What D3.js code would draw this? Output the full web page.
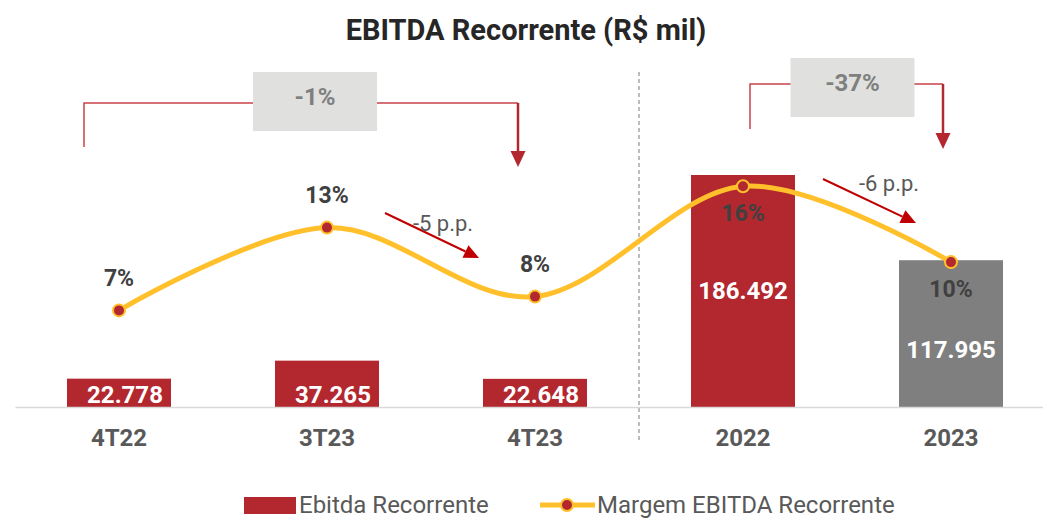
<!DOCTYPE html>
<html>
<head>
<meta charset="utf-8">
<script src="https://cdn.jsdelivr.net/npm/d3@7"></script>
<style>
  body { margin: 0; background: #fff; }
  svg { display: block; font-family: Roboto, "Noto Sans", sans-serif; }
</style>
</head>
<body>
<div id="chart"></div>
<script>
// chart data
const categories = ["4T22", "3T23", "4T23", "2022", "2023"];
const ebitdaValues = [22778, 37265, 22648, 186492, 117995];
const marginValues = [7.0, 13.0, 8.0, 16.0, 10.5];
const marginLabels = ["7%", "13%", "8%", "16%", "10%"];
const variations = [
  { from: "4T22", to: "4T23", label: "-1%" },
  { from: "2022", to: "2023", label: "-37%" }
];
const ppChanges = [
  { from: "3T23", to: "4T23", label: "-5 p.p." },
  { from: "2022", to: "2023", label: "-6 p.p." }
];
const seriesNames = ["Ebitda Recorrente", "Margem EBITDA Recorrente"];
const chartTitle = "EBITDA Recorrente (R$ mil)";

// layout
const width = 1043, height = 518;
const baseY = 407;
const red = "#B3272F", gray = "#7F7F7F", gold = "#FFC02B", darkRed = "#C00000";
const textDark = "#404040", textGray = "#595959";
const grayCategories = new Set(["2023"]);
const marginBelow = new Set(["2022", "2023"]);

const ptBR = d3.formatLocale({ decimal: ",", thousands: ".", grouping: [3], currency: ["R$", ""] });
const fmtValue = ptBR.format(",d");

const svg = d3.select("#chart").append("svg")
  .attr("width", width)
  .attr("height", height);

const x = d3.scaleBand()
  .domain(categories)
  .range([15, 1055])
  .paddingInner(0.5)
  .paddingOuter(0.25);

const yBar = d3.scaleLinear().domain([0, 200000]).range([baseY, baseY - 248.8]);
const yPct = d3.scaleLinear().domain([0, 20]).range([baseY, baseY - 276]);

const cx = c => x(c) + x.bandwidth() / 2;

// title
svg.append("text")
  .attr("x", 526)
  .attr("y", 30)
  .attr("text-anchor", "middle")
  .attr("dominant-baseline", "central")
  .style("font-size", "29px")
  .style("font-weight", "bold")
  .style("fill", "#262626")
  .text(chartTitle);

// separator between quarters and years
const sepX = (cx("4T23") + cx("2022")) / 2;
svg.append("line")
  .attr("x1", sepX).attr("x2", sepX)
  .attr("y1", 72).attr("y2", 442)
  .style("stroke", "#A6A6A6")
  .style("stroke-width", 1.5)
  .style("stroke-dasharray", "4,3");

// bars
const barData = categories.map((c, i) => ({ cat: c, value: ebitdaValues[i], pct: marginValues[i], pctLabel: marginLabels[i] }));

svg.append("g").selectAll("rect")
  .data(barData)
  .join("rect")
  .attr("x", d => x(d.cat))
  .attr("y", d => yBar(d.value))
  .attr("width", x.bandwidth())
  .attr("height", d => baseY - yBar(d.value))
  .style("fill", d => grayCategories.has(d.cat) ? gray : red);

// axis
const axis = svg.append("g")
  .attr("transform", `translate(0,${baseY})`)
  .call(d3.axisBottom(x).tickSize(0).tickSizeOuter(0).tickPadding(22));
axis.select(".domain").style("stroke", "#D9D9D9").style("stroke-width", 1.5);
axis.selectAll("text")
  .style("font-family", "Roboto, sans-serif")
  .style("font-size", "24px")
  .style("font-weight", "bold")
  .style("fill", textGray);

// margin line
const pctLabelY = d => marginBelow.has(d.cat) ? yPct(d.pct) + 27 : yPct(d.pct) - 32;

svg.append("path")
  .datum(barData)
  .attr("d", d3.line().x(d => cx(d.cat)).y(d => yPct(d.pct)).curve(d3.curveCardinal.tension(0)))
  .style("fill", "none")
  .style("stroke", gold)
  .style("stroke-width", 5);

svg.append("g").selectAll("circle")
  .data(barData)
  .join("circle")
  .attr("cx", d => cx(d.cat))
  .attr("cy", d => yPct(d.pct))
  .attr("r", 6)
  .style("fill", red)
  .style("stroke", gold)
  .style("stroke-width", 2);

// value labels inside bars
svg.append("g").selectAll("text")
  .data(barData)
  .join("text")
  .attr("x", d => cx(d.cat) + (baseY - yBar(d.value) < 60 ? 6 : 0))
  .attr("y", d => {
    const h = baseY - yBar(d.value);
    if (h < 60) return baseY - 12;
    return Math.max(yBar(d.value) + h / 2, pctLabelY(d) + 61);
  })
  .attr("text-anchor", "middle")
  .attr("dominant-baseline", "central")
  .style("font-size", "24px")
  .style("font-weight", "bold")
  .style("fill", "#fff")
  .text(d => fmtValue(d.value));

// margin labels
svg.append("g").selectAll("text")
  .data(barData)
  .join("text")
  .attr("x", d => cx(d.cat))
  .attr("y", pctLabelY)
  .attr("text-anchor", "middle")
  .attr("dominant-baseline", "central")
  .style("font-size", "23px")
  .style("font-weight", "bold")
  .style("fill", textDark)
  .text(d => d.pctLabel);

// variation brackets with boxes
const bracketLayout = [
  { dxFrom: -35, dxTo: -17, top: 103, leftBottom: 147, tip: 167, boxDx: 14, boxTop: 72 },
  { dxFrom: 7, dxTo: -8, top: 84, leftBottom: 129, tip: 149, boxDx: 6, boxTop: 58 }
];

variations.forEach((v, i) => {
  const L = bracketLayout[i];
  const x1 = cx(v.from) + L.dxFrom;
  const x2 = cx(v.to) + L.dxTo;
  const g = svg.append("g");
  g.append("path")
    .attr("d", `M${x1},${L.leftBottom}V${L.top}H${x2}`)
    .style("fill", "none")
    .style("stroke", "#C8434B")
    .style("stroke-width", 1.5);
  g.append("line")
    .attr("x1", x2).attr("x2", x2)
    .attr("y1", L.top).attr("y2", L.tip - 14)
    .style("stroke", red)
    .style("stroke-width", 2.5);
  g.append("path")
    .attr("d", `M${x2 - 7.5},${L.tip - 16}L${x2 + 7.5},${L.tip - 16}L${x2},${L.tip}Z`)
    .style("fill", red);
  const bx = (x1 + x2) / 2 + L.boxDx;
  g.append("rect")
    .attr("x", bx - 62).attr("y", L.boxTop)
    .attr("width", 124).attr("height", 59)
    .style("fill", "#E0E1DF");
  g.append("text")
    .attr("x", bx).attr("y", L.boxTop + 25)
    .attr("text-anchor", "middle")
    .attr("dominant-baseline", "central")
    .style("font-size", "24px")
    .style("font-weight", "bold")
    .style("fill", "#7F7F7F")
    .text(v.label);
});

// percentage point arrows
const ppLayout = [
  { dxFrom: 58, y1: 213, dxTo: -56, y2: 258, labelDx: 116, labelY: 223 },
  { dxFrom: 80, y1: 179, dxTo: -35, y2: 223, labelDx: 146, labelY: 183 }
];

ppChanges.forEach((p, i) => {
  const L = ppLayout[i];
  const x1 = cx(p.from) + L.dxFrom;
  const x2 = cx(p.to) + L.dxTo;
  const ang = Math.atan2(L.y2 - L.y1, x2 - x1);
  const len = 15, half = 7;
  const bxp = x2 - len * Math.cos(ang), byp = L.y2 - len * Math.sin(ang);
  const g = svg.append("g");
  g.append("line")
    .attr("x1", x1).attr("y1", L.y1)
    .attr("x2", bxp).attr("y2", byp)
    .style("stroke", darkRed)
    .style("stroke-width", 2);
  g.append("path")
    .attr("d", `M${x2},${L.y2}L${bxp - half * Math.sin(ang)},${byp + half * Math.cos(ang)}L${bxp + half * Math.sin(ang)},${byp - half * Math.cos(ang)}Z`)
    .style("fill", darkRed);
  g.append("text")
    .attr("x", cx(p.from) + L.labelDx)
    .attr("y", L.labelY)
    .attr("text-anchor", "middle")
    .attr("dominant-baseline", "central")
    .style("font-size", "22px")
    .style("fill", textGray)
    .text(p.label);
});

// legend
const legend = svg.append("g").attr("transform", "translate(0,505)");
legend.append("rect")
  .attr("x", 244).attr("y", -8)
  .attr("width", 52).attr("height", 17)
  .style("fill", red);
legend.append("text")
  .attr("x", 299).attr("y", 0)
  .attr("dominant-baseline", "central")
  .style("font-size", "24px")
  .style("fill", textGray)
  .text(seriesNames[0]);
legend.append("line")
  .attr("x1", 540).attr("x2", 595)
  .attr("y1", 0).attr("y2", 0)
  .style("stroke", gold)
  .style("stroke-width", 5);
legend.append("circle")
  .attr("cx", 567).attr("cy", 0).attr("r", 6)
  .style("fill", red)
  .style("stroke", gold)
  .style("stroke-width", 2);
legend.append("text")
  .attr("x", 597).attr("y", 0)
  .attr("dominant-baseline", "central")
  .style("font-size", "24px")
  .style("fill", textGray)
  .text(seriesNames[1]);
</script>
</body>
</html>
